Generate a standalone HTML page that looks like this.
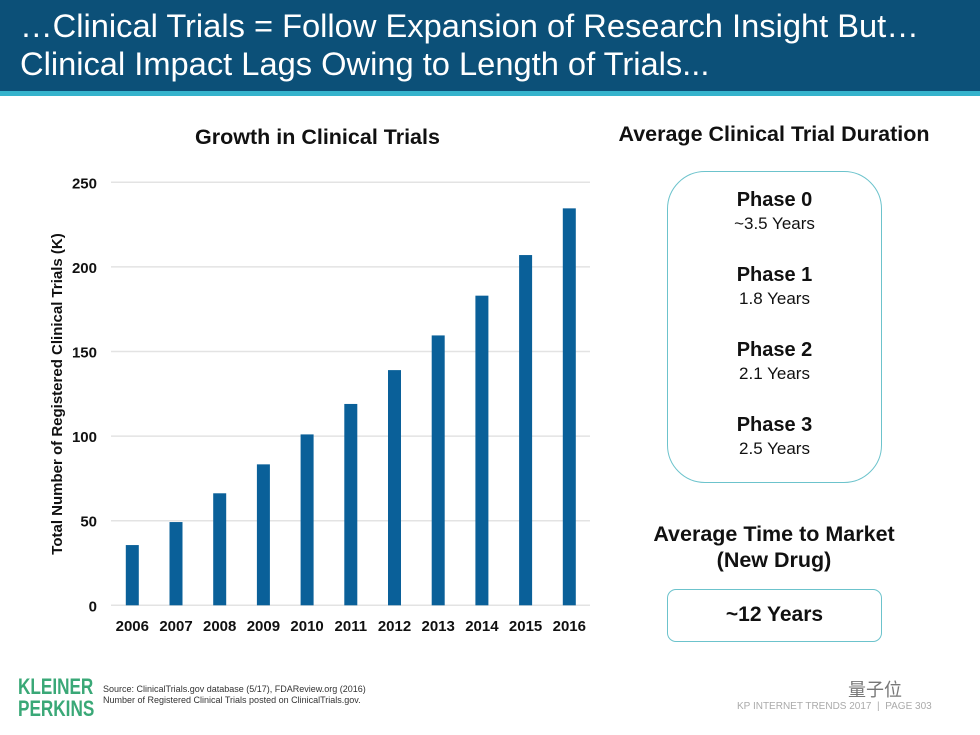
<!DOCTYPE html>
<html><head><meta charset="utf-8"><style>
*{margin:0;padding:0;box-sizing:border-box}
body{width:980px;height:735px;background:#fff;position:relative;overflow:hidden;font-family:"Liberation Sans","Noto Sans CJK SC",sans-serif}
.abs{position:absolute}
.hdr{left:0;top:0;width:980px;height:91px;background:#0c5078}
.stripe{left:0;top:91px;width:980px;height:5px;background:#35b3cc}
.title{left:20px;top:7px;color:#fff;font-size:32px;line-height:38px;transform:scaleX(1.02);transform-origin:left top;white-space:nowrap}
.ct{font-weight:bold;font-size:21.5px;color:#111;text-align:center}
.box{border:1.5px solid #6cc3cc;background:#fff}
.ph{position:absolute;left:0;width:100%;text-align:center;color:#111}
.ph b{display:block;font-size:20px}
.ph span{display:block;font-size:17px;margin-top:2px}
</style></head><body>
<div class="abs hdr"></div>
<div class="abs stripe"></div>
<div class="abs title">…Clinical Trials = Follow Expansion of Research Insight But…<br>Clinical Impact Lags Owing to Length of Trials...</div>

<div class="abs ct" style="left:150px;top:125px;width:335px">Growth in Clinical Trials</div>

<svg class="abs" style="left:0;top:0" width="980" height="735" id="chart"></svg>

<div class="abs ct" style="left:590px;top:122px;width:368px">Average Clinical Trial Duration</div>
<div class="abs box" style="left:667px;top:171px;width:215px;height:312px;border-radius:38px">
 <div class="ph" style="top:17px"><b>Phase 0</b><span>~3.5 Years</span></div>
 <div class="ph" style="top:92px"><b>Phase 1</b><span>1.8 Years</span></div>
 <div class="ph" style="top:167px"><b>Phase 2</b><span>2.1 Years</span></div>
 <div class="ph" style="top:242px"><b>Phase 3</b><span>2.5 Years</span></div>
</div>
<div class="abs ct" style="left:610px;top:521px;width:328px;line-height:26px">Average Time to Market<br>(New Drug)</div>
<div class="abs box" style="left:667px;top:589px;width:215px;height:53px;border-radius:9px;text-align:center;font-weight:bold;font-size:21px;line-height:50px;color:#111">~12 Years</div>

<div class="abs" style="left:18px;top:676px;color:#3aa877;font-weight:bold;font-size:22px;line-height:22px;transform:scaleX(0.78);transform-origin:left top">KLEINER<br>PERKINS</div>
<div class="abs" style="left:103px;top:684px;font-size:9px;line-height:11px;color:#333">Source: ClinicalTrials.gov database (5/17), FDAReview.org (2016)<br>Number of Registered Clinical Trials posted on ClinicalTrials.gov.</div>
<div class="abs" style="left:848px;top:676px;font-size:18px;color:#777">量子位</div>
<div class="abs" style="left:737px;top:701px;font-size:10px;color:#aaa">KP INTERNET TRENDS 2017 &nbsp;|&nbsp; PAGE 303</div>

<script>
const categories=["2006","2007","2008","2009","2010","2011","2012","2013","2014","2015","2016"];
const values=[35.6,49.2,66.2,83.3,101,119,139,159.5,183,207,234.6];
const ticks=[0,50,100,150,200,250];
const NS="http://www.w3.org/2000/svg";
const svg=document.getElementById('chart');
const y0=605.3,yTop=182.3,vMax=250,x0=132.3,step=43.7,bw=13;
function yS(v){return y0-(v/vMax)*(y0-yTop);}
function xS(i){return x0+i*step;}
function mk(t,a){const e=document.createElementNS(NS,t);for(const k in a)e.setAttribute(k,a[k]);svg.appendChild(e);return e;}
ticks.forEach(t=>{
 const l=mk('line',{x1:111,x2:590,y1:yS(t),y2:yS(t),stroke:'#e3e3e3','stroke-width':1.5});
 
 
 const tx=mk('text',{x:97,y:yS(t)+6,'text-anchor':'end','font-size':15,'font-weight':'bold',fill:'#111','font-family':'Liberation Sans, sans-serif'});
 tx.textContent=t;
 
 
});
values.forEach((v,i)=>{
 const r=mk('rect',{x:xS(i)-bw/2,y:yS(v),width:bw,height:y0-yS(v),fill:'#0a6099'});
 
 
 const tx=mk('text',{x:xS(i),y:631,'text-anchor':'middle','font-size':15,'font-weight':'bold',fill:'#111','font-family':'Liberation Sans, sans-serif'});
 tx.textContent=categories[i];
 
 
});
const yt=mk('text',{x:0,y:0,transform:'translate(62,394) rotate(-90)','text-anchor':'middle','font-size':15,'font-weight':'bold',fill:'#111','font-family':'Liberation Sans, sans-serif'});
yt.textContent='Total Number of Registered Clinical Trials (K)';


</script>
</body></html>
